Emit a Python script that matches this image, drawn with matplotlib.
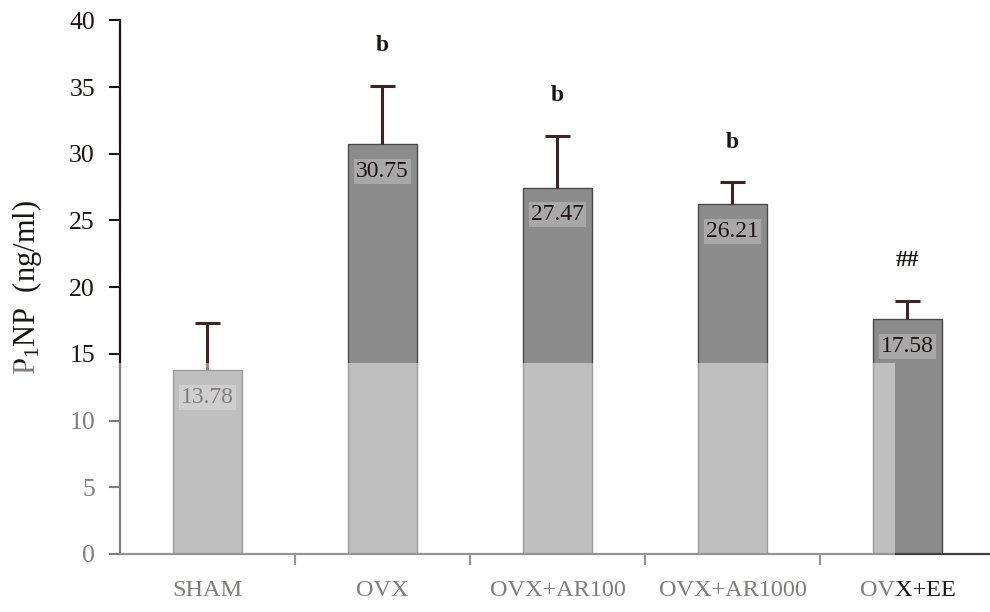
import matplotlib
matplotlib.use("Agg")
import matplotlib.pyplot as plt
from matplotlib.patches import Rectangle

plt.rcParams["font.family"] = ["Liberation Serif", "DejaVu Serif"]
plt.rcParams["mathtext.fontset"] = "custom"
plt.rcParams["mathtext.rm"] = "Liberation Serif"
plt.rcParams["mathtext.it"] = "Liberation Serif:italic"

# Serum P1NP by treatment group
groups = ["SHAM", "OVX", "OVX+AR100", "OVX+AR1000", "OVX+EE"]
means = [13.78, 30.75, 27.47, 26.21, 17.58]
sem = [3.50, 4.35, 3.90, 1.66, 1.42]
marks = ["", "b", "b", "b", "##"]
yticks = [0, 5, 10, 15, 20, 25, 30, 35, 40]

ink = "#1c1414"
err_col = "#3a2626"

fig = plt.figure(figsize=(9.9, 6.12), dpi=100)
ax = fig.add_axes([0.1212, 0.0948, 0.8838, 0.8719])

x = list(range(len(groups)))
ax.bar(x, means, width=0.39, color="#8c8c8c", edgecolor="#4a4a4a",
       linewidth=1.0, zorder=2)
_, caps, _ = ax.errorbar(x, means, yerr=[[0] * len(means), sem], fmt="none",
                         ecolor=err_col, elinewidth=2.2, capsize=9,
                         capthick=2.2, zorder=3)
# only the upper whisker carries a cap
caps[0].set_visible(False)

for xi, m, e, mk in zip(x, means, sem, marks):
    ax.text(xi, m - 2.05, f"{m:.2f}", ha="center", va="center",
            fontsize=17, color=ink, zorder=4,
            bbox=dict(boxstyle="square,pad=0.08", facecolor="#b4b4b4",
                      edgecolor="none", alpha=0.7))
    if mk:
        ax.text(xi, m + e + 3.0, mk, ha="center", va="center",
                fontsize=17, fontweight="bold", color=ink)

ax.set_xlim(-0.5, 4.5)
ax.set_ylim(0, 40)
ax.set_yticks(yticks)
ax.set_yticklabels([str(t) for t in yticks], fontsize=18.5, color=ink)
ax.set_xticks(x)
ax.set_xticklabels(groups, fontsize=17.5, color=ink)
ax.set_xticks([0.5, 1.5, 2.5, 3.5], minor=True)
ax.tick_params(axis="x", which="major", length=0, pad=19)
ax.tick_params(axis="x", which="minor", length=8, width=1.5, color="#404040",
               direction="out")
ax.tick_params(axis="y", length=8, width=1.5, color=ink, pad=10)

for side in ("top", "right"):
    ax.spines[side].set_visible(False)
ax.spines["left"].set_color(ink)
ax.spines["left"].set_linewidth(1.6)
ax.spines["bottom"].set_color("#404040")
ax.spines["bottom"].set_linewidth(1.6)

ax.set_ylabel(r"P$_{\mathrm{1}}$NP  (ng/ml)", fontsize=22, color=ink,
              labelpad=18)

# lighter lower-left panel of the printed page
fig.add_artist(Rectangle((0, 0), 895 / 990, (612 - 363) / 612,
                         transform=fig.transFigure, facecolor="white",
                         edgecolor="none", alpha=0.45, zorder=10))

fig.savefig("out.png", dpi=100)
